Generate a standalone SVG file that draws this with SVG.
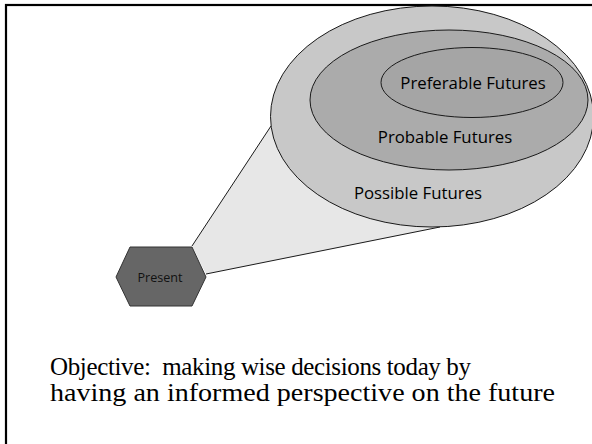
<svg xmlns="http://www.w3.org/2000/svg" width="592" height="444" viewBox="0 0 592 444">
  <style>
    .frame { fill: none; stroke: #000; stroke-width: 2.2; }
    .cone { fill: #e7e7e7; stroke: none; }
    .edge { stroke: #1a1a1a; stroke-width: 1; fill: none; }
    .ring { stroke: #1a1a1a; stroke-width: 1; }
    .lbl { font-family: "Open Sans", "Liberation Sans", sans-serif; font-size: 16.8px; fill: #000; text-anchor: middle; }
    .hex { fill: #666666; stroke: #333333; stroke-width: 1; }
    .hexlbl { font-family: "Open Sans", "Liberation Sans", sans-serif; font-size: 12.6px; fill: #111; text-anchor: middle; }
    .note { font-family: "Liberation Serif", "DejaVu Serif", serif; font-size: 25px; fill: #000; }
  </style>

  <rect width="592" height="444" fill="#fff"/>
  <rect class="frame" x="6" y="5" width="600" height="460"/>

  <!-- viewing cone from the present towards the futures -->
  <g id="connectors">
    <polygon class="cone" points="192,246 271,126 432,116 440,227 206,274"/>
    <line class="edge" x1="192" y1="246" x2="271" y2="126"/>
    <line class="edge" x1="206" y1="274" x2="440" y2="227"/>
  </g>

  <g id="possible">
    <ellipse class="ring" cx="432" cy="116.5" rx="161.5" ry="110.5" fill="#c8c8c8"/>
    <text class="lbl" x="418" y="199">Possible Futures</text>
  </g>

  <g id="probable">
    <ellipse class="ring" cx="449" cy="100" rx="139" ry="70" fill="#ababab"/>
    <text class="lbl" x="445" y="143">Probable Futures</text>
  </g>

  <g id="preferable">
    <ellipse class="ring" cx="472" cy="82.5" rx="91" ry="35" fill="#a5a5a5"/>
    <text class="lbl" x="473" y="89">Preferable Futures</text>
  </g>

  <g id="present">
    <polygon class="hex" points="116,277 130,247 192,247 206,277 192,306 130,306"/>
    <text class="hexlbl" x="160" y="282">Present</text>
  </g>

  <g id="objective">
    <text class="note" x="50" y="375" textLength="421" lengthAdjust="spacing" xml:space="preserve">Objective:  making wise decisions today by</text>
    <text class="note" x="50" y="401" textLength="505" lengthAdjust="spacingAndGlyphs">having an informed perspective on the future</text>
  </g>
</svg>
